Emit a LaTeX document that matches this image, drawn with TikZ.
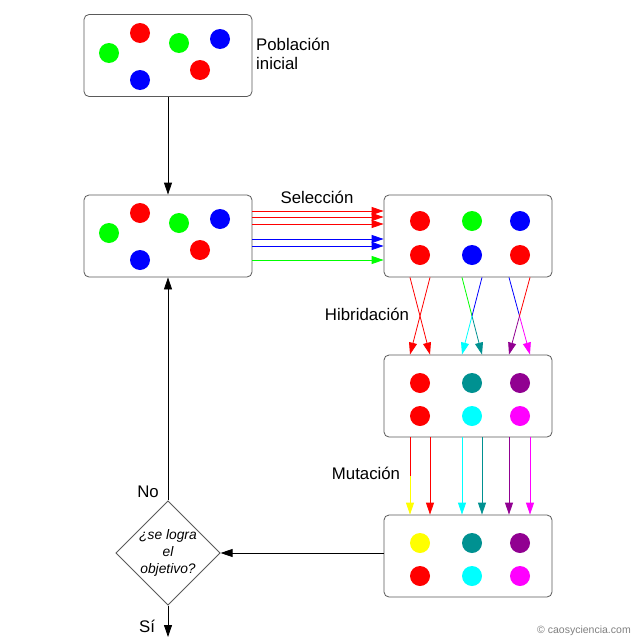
\documentclass[tikz,border=0pt]{standalone}
\usepackage{fontspec}
\setmainfont{Liberation Sans}
\usetikzlibrary{arrows.meta,shapes.geometric,calc}
\definecolor{tealc}{RGB}{0,145,145}
\definecolor{purpc}{RGB}{145,0,145}
\definecolor{boxgray}{RGB}{90,90,90}
\definecolor{redc}{RGB}{255,0,0}
\definecolor{greenc}{RGB}{0,255,0}
\definecolor{bluec}{RGB}{0,0,255}
\definecolor{cyanc}{RGB}{0,255,255}
\definecolor{magc}{RGB}{255,0,255}
\definecolor{yelc}{RGB}{255,255,0}
\begin{document}
\begin{tikzpicture}[x=1pt,y=-1pt,
  pop/.style={draw=boxgray, line width=0.8pt, rounded corners=5pt, minimum width=168pt, minimum height=82pt, inner sep=0pt, fill=white},
  dot/.style={circle, minimum size=20pt, inner sep=0pt, fill=#1},
  arr/.style={-{Triangle[length=12pt,width=8pt]}, line width=0.8pt},
  lab/.style={font=\fontsize{16.8}{19.5}\selectfont, inner sep=0pt},
  cond/.style={diamond, draw=boxgray, line width=0.8pt, minimum width=104pt, minimum height=104pt, aspect=1, inner sep=0pt, fill=white, align=center, font=\fontsize{13.8}{17}\selectfont\itshape}
]
\useasboundingbox (0,0) rectangle (640,640);
\fill[white] (0,0) rectangle (640,640);

% boxes
\node[pop] (b1) at (168,55.5) {};
\node[pop] (b2) at (168,236) {};
\node[pop] (b3) at (468,236) {};
\node[pop] (b4) at (468,396) {};
\node[pop] (b5) at (468,556) {};
\node[cond] (d) at (168,553) {¿se logra\\el\\objetivo?};

% dots box1
\node[dot=redc] (p1) at (140,33) {};
\node[dot=greenc] (p2) at (109,53) {};
\node[dot=greenc] (p3) at (179,43) {};
\node[dot=bluec] (p4) at (220,39) {};
\node[dot=bluec] (p5) at (140,80) {};
\node[dot=redc] (p6) at (200,70) {};
% dots box2
\node[dot=redc] (q1) at (140,213) {};
\node[dot=greenc] (q2) at (109,233) {};
\node[dot=greenc] (q3) at (179,223) {};
\node[dot=bluec] (q4) at (220,219) {};
\node[dot=bluec] (q5) at (140,260) {};
\node[dot=redc] (q6) at (200,250) {};
% dots box3
\node[dot=redc] (r1) at (420,221) {};
\node[dot=greenc] (r2) at (472,221) {};
\node[dot=bluec] (r3) at (520,221) {};
\node[dot=redc] (r4) at (420,255) {};
\node[dot=bluec] (r5) at (472,255) {};
\node[dot=redc] (r6) at (520,255) {};
% dots box4
\node[dot=redc] (s1) at (420,383) {};
\node[dot=tealc] (s2) at (472,383) {};
\node[dot=purpc] (s3) at (520,383) {};
\node[dot=redc] (s4) at (420,416) {};
\node[dot=cyanc] (s5) at (472,416) {};
\node[dot=magc] (s6) at (520,416) {};
% dots box5
\node[dot=yelc] (t1) at (420,543) {};
\node[dot=tealc] (t2) at (472,543) {};
\node[dot=purpc] (t3) at (520,543) {};
\node[dot=redc] (t4) at (420,576) {};
\node[dot=cyanc] (t5) at (472,576) {};
\node[dot=magc] (t6) at (520,576) {};

% labels
\node[lab, anchor=west, align=left] (l1) at (256,54) {Población\\inicial};
\node[lab] (l2) at (317,197) {Selección};
\node[lab] (l3) at (367,314) {Hibridación};
\node[lab] (l4) at (366,473) {Mutación};
\node[lab] (l5) at (148,492) {No};
\node[lab] (l6) at (147,626) {Sí};
\node[font=\fontsize{10.5}{12}\selectfont, text=gray, inner sep=0pt] (cp) at (584,631) {© caosyciencia.com};

% black arrows
\draw[arr] (b1.south) -- (b2.north);
\draw[arr] (d.north) -- (b2.south);
\draw[arr] (b5.west |- d.east) -- (d.east);
\coordinate (end) at (168,637);
\draw[arr] (d.south) -- (end);

% selection
\foreach \yy/\cc in {211/redc,217/redc,224/redc,239/bluec,246/bluec,260/greenc}
  \draw[arr,\cc] (b2.east |- 0,\yy) -- (b3.west |- 0,\yy);

% hybridization
\foreach \xa/\xb/\ca/\cb in {410/430/redc/redc, 430/410/redc/redc, 462/482/greenc/tealc, 482/462/bluec/cyanc, 509/530/bluec/magc, 530/509/redc/purpc}{
  \coordinate (ha) at (b3.south -| \xa,0);
  \coordinate (hb) at (b4.north -| \xb,0);
  \draw[\ca, line width=0.8pt] (ha) -- ($(ha)!0.5!(hb)$);
  \draw[arr,\cb] ($(ha)!0.5!(hb)$) -- (hb);
}

% mutation
\foreach \xa/\ca/\cb in {410/redc/yelc, 430/redc/redc, 462/cyanc/cyanc, 482/tealc/tealc, 509/purpc/purpc, 530/magc/magc}{
  \coordinate (ma) at (b4.south -| \xa,0);
  \coordinate (mb) at (b5.north -| \xa,0);
  \draw[\ca, line width=0.8pt] (ma) -- ($(ma)!0.5!(mb)$);
  \draw[arr,\cb] ($(ma)!0.5!(mb)$) -- (mb);
}
\end{tikzpicture}
\end{document}
